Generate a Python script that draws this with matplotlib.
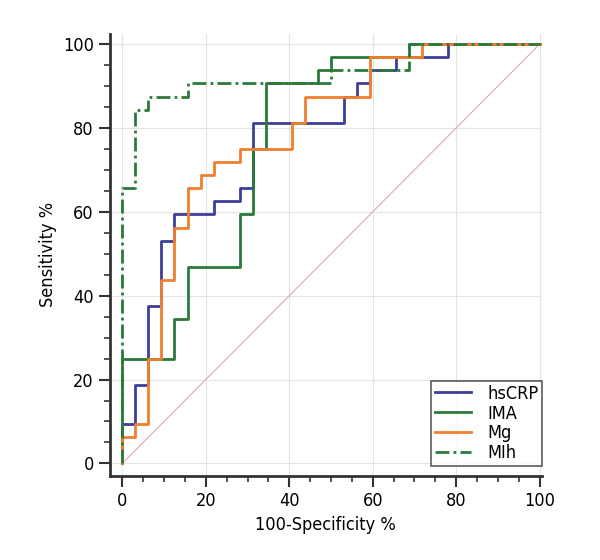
import matplotlib
matplotlib.use("Agg")
import matplotlib.pyplot as plt
from matplotlib.ticker import MultipleLocator

plt.rcParams['font.family'] = ['DejaVu Sans']
plt.rcParams['font.stretch'] = 'condensed'

# ROC step curves, (100-specificity, sensitivity)
hscrp_x = [0, 0, 3.125, 3.125, 6.25, 6.25, 9.375, 9.375, 12.5, 12.5, 21.875, 21.875,
           28.125, 28.125, 31.25, 31.25, 53.125, 53.125, 56.25, 56.25, 59.375, 59.375,
           65.625, 65.625, 78.125, 78.125, 100]
hscrp_y = [0, 9.375, 9.375, 18.75, 18.75, 37.5, 37.5, 53.125, 53.125, 59.375, 59.375, 62.5,
           62.5, 65.625, 65.625, 81.25, 81.25, 87.5, 87.5, 90.625, 90.625, 93.75,
           93.75, 96.875, 96.875, 100, 100]

ima_x = [0, 0, 12.5, 12.5, 15.625, 15.625, 28.125, 28.125, 31.25, 31.25, 34.375, 34.375,
         46.875, 46.875, 50, 50, 68.75, 68.75, 100]
ima_y = [0, 25, 25, 34.375, 34.375, 46.875, 46.875, 59.375, 59.375, 75, 75, 90.625,
         90.625, 93.75, 93.75, 96.875, 96.875, 100, 100]

mg_x = [0, 0, 3.125, 3.125, 6.25, 6.25, 9.375, 9.375, 12.5, 12.5, 15.625, 15.625,
        18.75, 18.75, 21.875, 21.875, 28.125, 28.125, 40.625, 40.625, 43.75, 43.75,
        59.375, 59.375, 71.875, 71.875, 100]
mg_y = [0, 6.25, 6.25, 9.375, 9.375, 25, 25, 43.75, 43.75, 56.25, 56.25, 65.625,
        65.625, 68.75, 68.75, 71.875, 71.875, 75, 75, 81.25, 81.25, 87.5,
        87.5, 96.875, 96.875, 100, 100]

mih_x = [0, 0, 3.125, 3.125, 6.25, 6.25, 15.625, 15.625, 50, 50, 68.75, 68.75, 100]
mih_y = [0, 65.625, 65.625, 84.375, 84.375, 87.5, 87.5, 90.625, 90.625, 93.75, 93.75, 100, 100]

fig = plt.figure(figsize=(6.0, 5.6), dpi=100)
ax = fig.add_axes([0.183, 0.15, 0.72, 0.79])

ax.plot([0, 100], [0, 100], color="#e0a8a8", lw=0.8, zorder=1)
ax.plot(hscrp_x, hscrp_y, color="#3b3f99", lw=2, label="hsCRP", zorder=2)
ax.plot(ima_x, ima_y, color="#2a7a3a", lw=2, label="IMA", zorder=2)
ax.plot(mg_x, mg_y, color="#f07f30", lw=2, label="Mg", zorder=3)
ax.plot(mih_x, mih_y, color="#2a7a3a", lw=2, ls=(0, (5, 1.5, 1, 1.5)), label="MIh", zorder=4)

ax.set_xlim(-3, 100.5)
ax.set_ylim(-3, 102.5)
ax.xaxis.set_major_locator(MultipleLocator(20))
ax.yaxis.set_major_locator(MultipleLocator(20))
ax.xaxis.set_minor_locator(MultipleLocator(5))
ax.yaxis.set_minor_locator(MultipleLocator(5))
ax.grid(True, which="major", color="#e4e4e4", lw=0.8)
ax.set_axisbelow(True)

for side in ["top", "right"]:
    ax.spines[side].set_visible(False)
for side in ["left", "bottom"]:
    ax.spines[side].set_linewidth(2)
    ax.spines[side].set_color("#333333")
ax.tick_params(which="major", direction="out", length=8, width=1.5, color="#333333",
               labelsize=13)
ax.tick_params(which="minor", direction="out", length=4, width=1.2, color="#333333")

ax.set_xlabel("100-Specificity %", fontsize=13)
ax.set_ylabel("Sensitivity %", fontsize=13)

leg = ax.legend(loc="lower right", fontsize=13, frameon=True, fancybox=False,
                handlelength=2.0, borderpad=0.2, labelspacing=0.1, handletextpad=0.9,
                borderaxespad=0, bbox_to_anchor=(1.0, 0.023))
leg.get_frame().set_edgecolor("#333333")
leg.get_frame().set_linewidth(1.2)

fig.savefig("out.png", dpi=100)
